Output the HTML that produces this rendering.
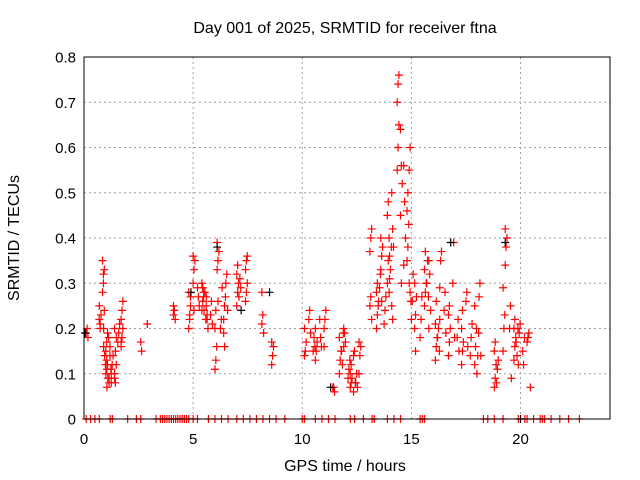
<!DOCTYPE html>
<html><head><meta charset="utf-8"><style>
body{margin:0;background:#fff;}
svg{display:block;font-family:"Liberation Sans",sans-serif;}
</style></head><body>
<svg id="chart" width="640" height="480">
<text x="345" y="33" text-anchor="middle" font-size="16">Day 001 of 2025, SRMTID for receiver ftna</text>
<text x="345" y="471" text-anchor="middle" font-size="16">GPS time / hours</text>
<text transform="translate(19,238) rotate(-90)" text-anchor="middle" font-size="16">SRMTID / TECUs</text>
<g id="grid"></g><g id="ticks"></g><g id="marks"></g>
<rect x="84" y="57" width="526" height="362" fill="none" stroke="#000" stroke-width="1"/>
</svg>
<script>
const xTicks=[0,5,10,15,20];
const yTicks=[0,0.1,0.2,0.3,0.4,0.5,0.6,0.7,0.8];
const yTickLabels=["0","0.1","0.2","0.3","0.4","0.5","0.6","0.7","0.8"];
// clusters: [hour, values...]
const clusterHours=[0.1,0.7,0.85,1.0,1.15,1.4,1.7,2.6,2.9,4.1,4.8,5.0,5.4,5.6,6.0,6.1,6.4,6.5,7.0,7.4,8.15,8.6,10.1,10.3,10.6,10.8,11.0,11.4,11.7,11.9,12.2,12.35,12.6,13.1,13.4,13.6,13.9,14.1,14.35,14.5,14.8,14.9,15.15,15.6,15.8,16.1,16.3,16.7,16.9,17.3,17.5,17.9,18.1,18.8,19.2,19.3,19.7,19.9,20.3,20.45,
0.9,1.05,1.25,1.55,5.2,5.5,5.8,6.25,7.1,10.5,11.8,12.1,12.45,13.5,13.75,14.0,14.65,15.0,15.4,15.7,16.2,16.5,17.1,17.7,18.0,18.9,19.5,19.8,20.1];
const clusterValues=[
[0.19,0.2,0.18],[0.22,0.21,0.23,0.25,0.2],[0.28,0.3,0.33,0.35,0.32,0.24],[0.15,0.13,0.12,0.1,0.17,0.19],[0.08,0.14,0.11,0.09,0.16],
[0.1,0.08,0.12,0.09,0.15,0.18,0.2],[0.16,0.18,0.2,0.22,0.24,0.26,0.17],[0.17,0.15],[0.21],[0.23,0.24,0.22,0.25],
[0.2,0.22,0.25,0.28,0.23,0.27],[0.3,0.33,0.35,0.36,0.24],[0.24,0.26,0.28,0.3,0.29,0.27],[0.25,0.22,0.2,0.27,0.23],
[0.11,0.13,0.16,0.2,0.24],[0.33,0.35,0.37,0.39,0.26],[0.22,0.25,0.27,0.19,0.16],[0.3,0.32,0.24],
[0.25,0.28,0.3,0.32,0.34],[0.26,0.28,0.3,0.33,0.35,0.36],[0.21,0.23,0.19,0.28],[0.12,0.14,0.16,0.17],
[0.14,0.15,0.17,0.2],[0.22,0.24,0.19],[0.13,0.15,0.17,0.2],[0.22,0.18,0.16],[0.2,0.22,0.24,0.16],
[0.07,0.07,0.06],[0.1,0.13,0.15,0.18],[0.2,0.19,0.17,0.16],[0.07,0.08,0.09,0.1,0.12],[0.14,0.15,0.08,0.06],
[0.1,0.14,0.16,0.17],[0.37,0.4,0.42,0.25,0.27,0.22],[0.2,0.23,0.25,0.28,0.3],[0.33,0.36,0.38,0.4,0.26],
[0.3,0.35,0.4,0.45,0.48,0.28],[0.5,0.42,0.38,0.25,0.22],[0.55,0.6,0.65,0.7,0.74,0.76],[0.64,0.56,0.52,0.45,0.3],
[0.35,0.38,0.43,0.46,0.5],[0.55,0.6,0.26,0.3,0.28],[0.2,0.23,0.27,0.3,0.15],[0.25,0.28,0.3,0.33,0.37],
[0.35,0.32,0.24,0.2],[0.13,0.16,0.18,0.21,0.26],[0.29,0.35,0.37,0.22],[0.14,0.17,0.2,0.23,0.25],[0.3,0.39,0.18],
[0.12,0.15,0.17,0.2,0.24],[0.26,0.28,0.16],[0.12,0.16,0.2,0.25],[0.27,0.3,0.14],[0.07,0.09,0.12,0.15,0.17],
[0.15,0.2,0.23,0.29],[0.34,0.38,0.4,0.42],[0.13,0.16,0.18,0.2,0.22],[0.12,0.19,0.21],[0.17,0.18,0.19],[0.07],
[0.16,0.14,0.12,0.2],[0.11,0.09,0.18,0.07],[0.1,0.12,0.14,0.08],[0.17,0.19,0.21],[0.29,0.27,0.25],[0.24,0.28,0.22],[0.23,0.26,0.21],[0.2,0.22,0.29],
[0.27,0.31,0.29],[0.15,0.18,0.16],[0.15,0.12,0.19],[0.09,0.11,0.13],[0.08,0.1,0.07],[0.26,0.29,0.32],[0.21,0.24,0.27],
[0.36,0.33,0.38,0.31],[0.56,0.48,0.4,0.34],[0.22,0.26,0.32],[0.18,0.22,0.27],[0.3,0.35,0.27],[0.18,0.2,0.15],[0.24,0.28,0.19],
[0.18,0.22,0.15],[0.14,0.18,0.21],[0.1,0.14,0.19],[0.08,0.11,0.13],[0.2,0.25,0.09],[0.17,0.14,0.2],[0.15,0.12,0.18]];
const zeroHours=[0.1,0.3,0.5,0.7,1.2,1.3,2.0,2.4,2.6,3.3,3.5,3.7,3.9,4.0,4.2,4.4,4.6,4.8,5.0,5.2,5.7,6.0,6.3,6.6,7.0,7.3,7.6,7.9,8.2,8.5,8.8,9.2,10.0,10.6,10.9,11.2,11.5,12.2,12.4,12.8,13.2,13.9,14.2,14.5,15.5,15.6,18.3,18.5,18.8,19.2,19.9,20.2,20.3,20.6,20.9,21.0,21.4,21.8,22.2,22.7,
3.6,3.8,4.1,4.3,4.5,4.7,10.1,13.3,15.4,21.1];
const blackHours=[0.05,4.9,6.1,7.2,8.5,11.3,16.8,19.3,20.0];
const blackValues=[0.19,0.28,0.38,0.24,0.28,0.07,0.39,0.39,0.0];

const NS="http://www.w3.org/2000/svg";
const X0=84,X1=610,Y0=419,Y1=57;
function xs(h){return X0+h*(X1-X0)/24.1;}
function ys(v){return Y0-v*(Y0-Y1)/0.8;}
function mk(tag,attrs,parent){const e=document.createElementNS(NS,tag);for(const k in attrs)e.setAttribute(k,attrs[k]);parent.appendChild(e);return e;}
const grid=document.getElementById('grid'),ticks=document.getElementById('ticks'),marks=document.getElementById('marks');
xTicks.forEach(t=>{
  const x=xs(t);
  if(t>0){const g=mk('line',{x1:x,x2:x,y1:Y0,y2:Y1,stroke:'#a0a0a0','stroke-dasharray':'2,3'},grid);
  
  }
  const tl=mk('text',{x:x,y:444,'text-anchor':'middle','font-size':'15'},ticks);tl.textContent=t;
  
  
});
yTicks.forEach((t,i)=>{
  const y=ys(t);
  if(t>0){const g=mk('line',{x1:X0,x2:X1,y1:y,y2:y,stroke:'#a0a0a0','stroke-dasharray':'2,3'},grid);
  
  }
  const tl=mk('text',{x:76,y:y+5.5,'text-anchor':'end','font-size':'15'},ticks);tl.textContent=yTickLabels[i];
  
  
});
function plus(h,v,color,name){
  const x=xs(h),y=ys(v);
  const p=mk('path',{d:`M${x-4},${y}H${x+4}M${x},${y-4}V${y+4}`,stroke:color,'stroke-width':1.2,fill:'none'},marks);
  
  
}
clusterHours.forEach((h,i)=>{clusterValues[i].forEach((v,j)=>plus(h+(j%3)*0.04,v,'#ff0000','srmtid-point'));});
zeroHours.forEach(h=>plus(h,0,'#ff0000','zero-point'));
blackHours.forEach((h,i)=>plus(h,blackValues[i],'#000000','secondary-point'));
</script>
</body></html>
